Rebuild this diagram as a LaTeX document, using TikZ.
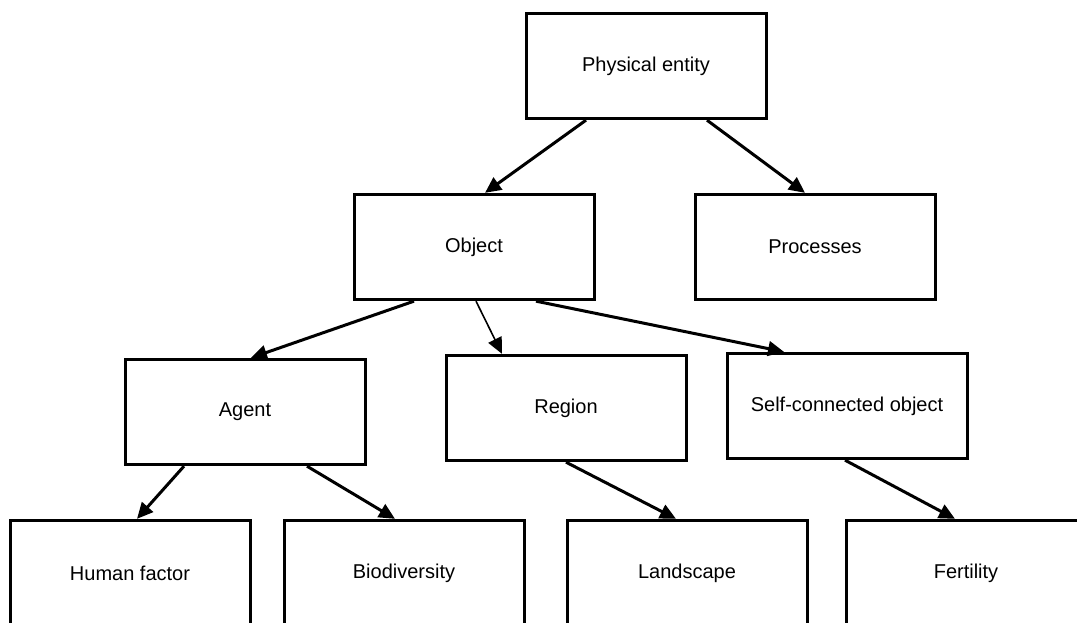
\documentclass[tikz,border=0pt]{standalone}
\usepackage{fontspec}
\setmainfont{Liberation Sans}
\usetikzlibrary{arrows.meta}
\tikzset{x=0.75pt, y=-0.75pt,
    concept/.style={draw, line width=2.25pt, minimum width=180pt,
        minimum height=79pt, inner sep=0pt, font=\fontsize{15}{18}\selectfont},
    isa/.style={-{Triangle[length=12pt,width=11pt]}, line width=2.25pt},
    thin isa/.style={isa, line width=1.2pt},
    }

\begin{document}
\begin{tikzpicture}
\useasboundingbox (0,0) rectangle (1077,623);
\clip (0,0) rectangle (1077,623);
% top levels
\node[concept] (phys) at (646,66) {Physical entity};
\node[concept] (object) at (474,247) {Object};
\node[concept] (proc) at (815,247) {Processes};
\node[concept] (agent) at (245,412) {Agent};
\node[concept] (region) at (566,408) {Region};
\node[concept] (selfcon) at (847,406) {Self-connected object};
% leaves (cut by the frame)
\node[concept] (human) at (130,573) {Human factor};
\node[concept] (biodiv) at (404,573) {Biodiversity};
\node[concept] (land) at (687,573) {Landscape};
\node[concept] (fert) at (966,573) {Fertility};

\draw[isa] ([xshift=-45pt]phys.south) -- ([xshift=8.25pt]object.north);
\draw[isa] ([xshift=45.75pt]phys.south) -- ([xshift=-7.5pt]proc.north);
\draw[isa] ([xshift=-45pt]object.south) -- ([xshift=4.5pt]agent.north);
\draw[thin isa] ([xshift=1.5pt]object.south) -- ([xshift=-48pt]region.north);
\draw[isa] ([xshift=46.5pt]object.south) -- ([xshift=-47.25pt]selfcon.north);
\draw[isa] ([xshift=-45.75pt]agent.south) -- ([xshift=5.25pt]human.north);
\draw[isa] ([xshift=46.5pt]agent.south) -- ([xshift=-6.75pt]biodiv.north);
\draw[isa] (region.south) -- ([xshift=-8.25pt]land.north);
\draw[isa] ([xshift=-1.5pt]selfcon.south) -- ([xshift=-8.25pt]fert.north);
\end{tikzpicture}
\end{document}
